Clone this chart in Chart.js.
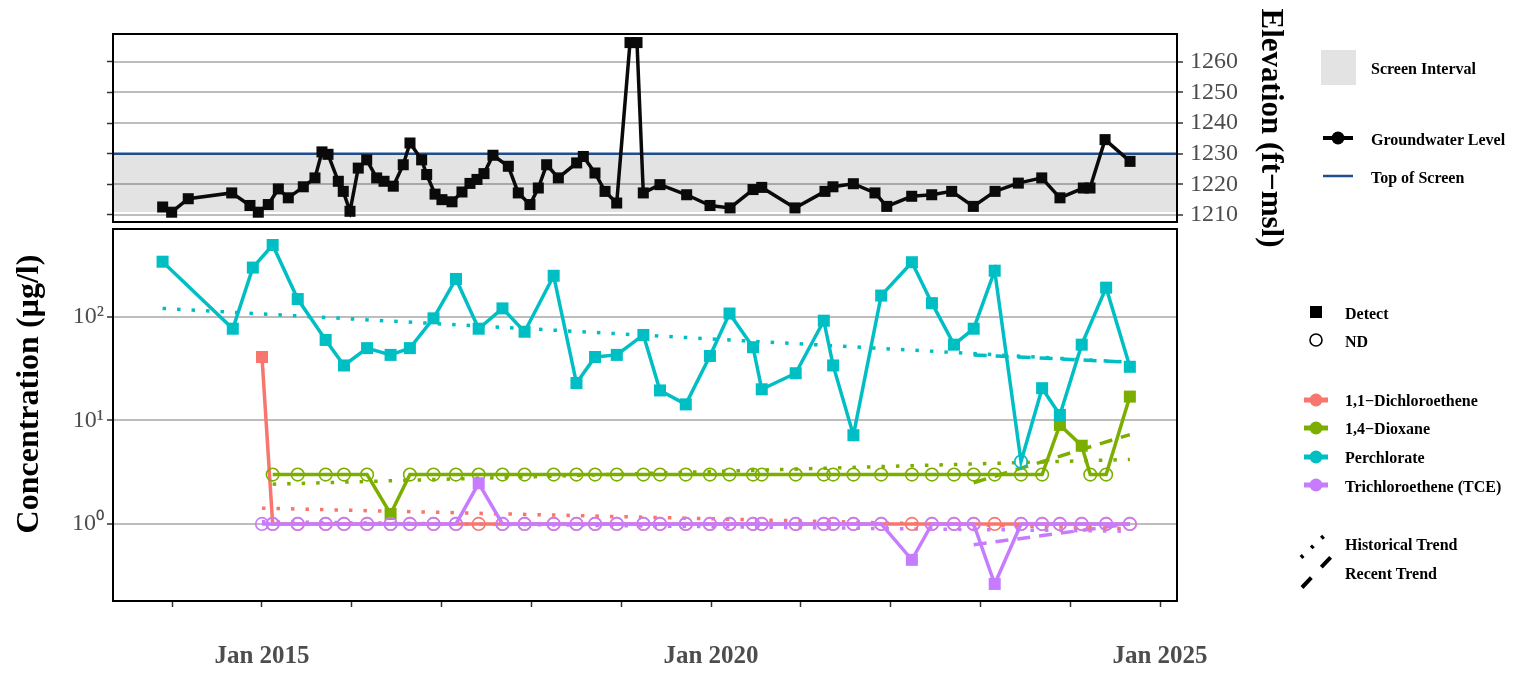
<!DOCTYPE html>
<html>
<head>
<meta charset="utf-8">
<script src="https://cdn.jsdelivr.net/npm/chart.js@4.4.1/dist/chart.umd.min.js"></script>
<style>
  html, body { margin: 0; background: #fff; overflow: hidden; }
  #wrap { position: relative; width: 1513px; height: 673px; }
  #wrap canvas, #wrap svg { position: absolute; left: 0; top: 0; }
  svg text { font-family: "Liberation Serif", serif; font-weight: bold; font-size: 16px; fill: #000; dominant-baseline: central; }
</style>
</head>
<body>
<div id="wrap">
  <canvas id="elev" width="1513" height="673"></canvas>
  <canvas id="conc" width="1513" height="673"></canvas>
  <svg width="1513" height="673">
    <text transform="translate(27,394) rotate(-90)" text-anchor="middle" style="font-size:32px">Concentration (µg/l)</text>

    <rect x="1321" y="50" width="35" height="35" fill="#e3e3e3"/>
    <text x="1371" y="68">Screen Interval</text>
    <line x1="1323" y1="138" x2="1353" y2="138" stroke="#000" stroke-width="4"/>
    <circle cx="1338" cy="138" r="6.5" fill="#000"/>
    <text x="1371" y="139">Groundwater Level</text>
    <line x1="1323" y1="176" x2="1353" y2="176" stroke="#1f4e8a" stroke-width="2.5"/>
    <text x="1371" y="177">Top of Screen</text>

    <rect x="1310" y="306" width="12" height="12" fill="#000"/>
    <text x="1345" y="313">Detect</text>
    <circle cx="1316" cy="340" r="6" fill="none" stroke="#000" stroke-width="1.6"/>
    <text x="1345" y="341">ND</text>

    <line x1="1304" y1="400" x2="1328" y2="400" stroke="#F8766D" stroke-width="5"/>
    <circle cx="1316" cy="400" r="6.5" fill="#F8766D"/>
    <text x="1345" y="400">1,1−Dichloroethene</text>
    <line x1="1304" y1="428" x2="1328" y2="428" stroke="#7CAE00" stroke-width="5"/>
    <circle cx="1316" cy="428" r="6.5" fill="#7CAE00"/>
    <text x="1345" y="428">1,4−Dioxane</text>
    <line x1="1304" y1="457" x2="1328" y2="457" stroke="#00BFC4" stroke-width="5"/>
    <circle cx="1316" cy="457" r="6.5" fill="#00BFC4"/>
    <text x="1345" y="457">Perchlorate</text>
    <line x1="1304" y1="485" x2="1328" y2="485" stroke="#C77CFF" stroke-width="5"/>
    <circle cx="1316" cy="485" r="6.5" fill="#C77CFF"/>
    <text x="1345" y="486">Trichloroethene (TCE)</text>

    <line x1="1301" y1="557.5" x2="1327" y2="533" stroke="#000" stroke-width="4" stroke-dasharray="3 11"/>
    <text x="1345" y="544">Historical Trend</text>
    <line x1="1302" y1="587.5" x2="1332" y2="556" stroke="#000" stroke-width="4" stroke-dasharray="13.5 14.5"/>
    <text x="1345" y="573">Recent Trend</text>
  </svg>
</div>
<script>
// groundwater level (ft-msl)
const gwDates = [2013.894, 2013.994, 2014.179, 2014.663, 2014.866, 2014.959, 2015.070, 2015.182, 2015.293, 2015.460,
  2015.590, 2015.668, 2015.735, 2015.850, 2015.905, 2015.980, 2016.072, 2016.166, 2016.277, 2016.359,
  2016.462, 2016.573, 2016.648, 2016.778, 2016.834, 2016.927, 2017.004, 2017.116, 2017.227, 2017.316,
  2017.394, 2017.472, 2017.572, 2017.743, 2017.854, 2017.984, 2018.077, 2018.170, 2018.300, 2018.504,
  2018.578, 2018.708, 2018.820, 2018.950, 2019.098, 2019.176, 2019.246, 2019.432, 2019.729, 2019.989,
  2020.212, 2020.468, 2020.565, 2020.935, 2021.269, 2021.358, 2021.585, 2021.826, 2021.957, 2022.235,
  2022.458, 2022.680, 2022.921, 2023.163, 2023.422, 2023.683, 2023.886, 2024.146, 2024.220, 2024.388,
  2024.666];
const gwElev = [1212.6, 1210.9, 1215.3, 1217.2, 1213.1, 1210.9, 1213.4, 1218.5, 1215.6, 1219.2,
  1222.1, 1230.6, 1229.8, 1221.0, 1217.7, 1211.2, 1225.3, 1228.0, 1222.1, 1221.0,
  1219.4, 1226.4, 1233.5, 1228.0, 1223.2, 1216.8, 1215.0, 1214.3, 1217.5, 1220.3,
  1221.6, 1223.5, 1229.5, 1225.9, 1217.2, 1213.4, 1218.8, 1226.4, 1222.1, 1227.0,
  1229.1, 1223.7, 1217.7, 1213.9, 1266.3, 1266.3, 1217.2, 1219.9, 1216.6, 1213.1,
  1212.3, 1218.3, 1219.0, 1212.3, 1217.7, 1219.2, 1220.2, 1217.2, 1212.8, 1216.1,
  1216.6, 1217.7, 1212.8, 1217.7, 1220.4, 1222.1, 1215.6, 1218.8, 1218.8, 1234.6,
  1227.5];
const screenTop = 1230;
const screenBottom = 1211;
const elevTicks = [1210, 1220, 1230, 1240, 1250, 1260];

// sampling events (decimal years) and results in ug/l, null = not sampled
const sampleDates = [2013.893, 2014.675, 2014.898, 2015.000, 2015.119, 2015.398, 2015.709, 2015.913, 2016.170, 2016.432,
  2016.647, 2016.910, 2017.160, 2017.413, 2017.678, 2017.924, 2018.248, 2018.502, 2018.709, 2018.951,
  2019.247, 2019.432, 2019.719, 2019.988, 2020.206, 2020.468, 2020.565, 2020.943, 2021.256, 2021.360,
  2021.586, 2021.895, 2022.237, 2022.460, 2022.706, 2022.925, 2023.159, 2023.452, 2023.687, 2023.885,
  2024.128, 2024.223, 2024.400, 2024.664];
const dce = [null, null, null, 41, 1, 1, 1, 1, 1, 1,
  1, 1, 1, 1, 1, 1, 1, 1, 1, 1,
  1, 1, 1, 1, 1, 1, 1, 1, 1, 1,
  1, 1, 1, 1, 1, 1, 1, 1, 1, 1,
  1, null, 1, 1];
const dceND = [0, 0, 0, 0, 1, 1, 1, 1, 1, 1,
  1, 1, 1, 1, 1, 1, 1, 1, 1, 1,
  1, 1, 1, 1, 1, 1, 1, 1, 1, 1,
  1, 1, 1, 1, 1, 1, 1, 1, 1, 1,
  1, 0, 1, 1];
const dioxane = [null, null, null, null, 3, 3, 3, 3, 3, 1.25,
  3, 3, 3, 3, 3, 3, 3, 3, 3, 3,
  3, 3, 3, 3, 3, 3, 3, 3, 3, 3,
  3, 3, 3, 3, 3, 3, 3, 3, 3, 9.05,
  5.7, 3, 3, 17];
const dioxaneND = [0, 0, 0, 0, 1, 1, 1, 1, 1, 0,
  1, 1, 1, 1, 1, 1, 1, 1, 1, 1,
  1, 1, 1, 1, 1, 1, 1, 1, 1, 1,
  1, 1, 1, 1, 1, 1, 1, 1, 1, 0,
  0, 1, 1, 0];
const perchlorate = [342, 77, 300, null, 496, 149, 60, 34, 50, 43,
  50, 97, 233, 77, 121, 72, 250, 23, 41, 43,
  67, 19.5, 14.3, 42, 108, 51, 20, 28.6, 92, 34,
  7.2, 161, 338, 136, 54, 77, 280, 4, 20.5, 11.3,
  54, null, 192, 33];
const perchlorateND = [0, 0, 0, 0, 0, 0, 0, 0, 0, 0,
  0, 0, 0, 0, 0, 0, 0, 0, 0, 0,
  0, 0, 0, 0, 0, 0, 0, 0, 0, 0,
  0, 0, 0, 0, 0, 0, 0, 1, 0, 0,
  0, 0, 0, 0];
const tce = [null, null, null, 1, 1, 1, 1, 1, 1, 1,
  1, 1, 1, 2.47, 1, 1, 1, 1, 1, 1,
  1, 1, 1, 1, 1, 1, 1, 1, 1, 1,
  1, 1, 0.45, 1, 1, 1, 0.263, 1, 1, 1,
  1, null, 1, 1];
const tceND = [0, 0, 0, 1, 1, 1, 1, 1, 1, 1,
  1, 1, 1, 0, 1, 1, 1, 1, 1, 1,
  1, 1, 1, 1, 1, 1, 1, 1, 1, 1,
  1, 1, 0, 1, 1, 1, 0, 1, 1, 1,
  1, 0, 1, 1];

// trend end points [start, end]
const histDates = { dce: [2015.000, 2024.664], dioxane: [2015.119, 2024.664], perchlorate: [2013.893, 2024.664], tce: [2015.000, 2024.664] };
const histValues = { dce: [1.42, 0.9], dioxane: [2.42, 4.2], perchlorate: [121, 36.5], tce: [1.05, 0.85] };
const recentDates = [2022.925, 2024.664];
const recentValues = { dioxane: [2.5, 7.3], perchlorate: [43, 36.5], tce: [0.63, 1.0] };

const concTicks = [1, 10, 100];
const concTickLabels = ['10⁰', '10¹', '10²'];
const tickYears = [2014, 2015, 2016, 2017, 2018, 2019, 2020, 2021, 2022, 2023, 2024, 2025];
const labelYears = [2015, 2020, 2025];

const colors = { dce: '#F8766D', dioxane: '#7CAE00', perchlorate: '#00BFC4', tce: '#C77CFF' };
const serif = '"Liberation Serif", "Times New Roman", serif';
const xMin = 2013.341, xMax = 2025.189;

Chart.defaults.font.family = serif;
Chart.defaults.animation = false;

// full black frame around each panel
const panelBox = {
  id: 'panelBox',
  afterDraw(chart) {
    const { ctx, chartArea: a } = chart;
    ctx.save();
    ctx.strokeStyle = '#000';
    ctx.lineWidth = 2;
    ctx.strokeRect(a.left, a.top, a.right - a.left, a.bottom - a.top);
    ctx.restore();
  }
};

const pts = (xs, ys) => xs.map((x, i) => ({ x, y: ys[i] }));

// ---- top panel: groundwater elevation ----
new Chart(document.getElementById('elev'), {
  type: 'line',
  data: {
    datasets: [
      { label: 'Groundwater Level', data: pts(gwDates, gwElev), borderColor: '#0a0a0a', borderWidth: 3.5,
        pointStyle: 'rect', pointRadius: 7.8, pointBorderWidth: 0, pointBackgroundColor: '#0a0a0a', order: 1, yAxisID: 'y' },
      { label: 'Top of Screen', data: pts([xMin, xMax], [screenTop, screenTop]), borderColor: '#1f4e8a', borderWidth: 2.5,
        pointRadius: 0, order: 2, yAxisID: 'y' },
      { label: 'Screen Interval', data: pts([xMin, xMax], [screenTop, screenTop]), borderWidth: 0, pointRadius: 0,
        fill: { value: screenBottom }, backgroundColor: 'rgba(0,0,0,0.11)', order: 3, yAxisID: 'y' }
    ]
  },
  options: {
    responsive: false,
    layout: { padding: { left: 0, right: 224, top: 34, bottom: 451 } },
    plugins: { legend: { display: false }, tooltip: { enabled: false } },
    scales: {
      x: { type: 'linear', min: xMin, max: xMax, display: false },
      yL: {
        position: 'left', min: 1207.7, max: 1269.1,
        afterBuildTicks: s => { s.ticks = elevTicks.map(v => ({ value: v })); },
        grid: { drawOnChartArea: false, tickLength: 6, tickColor: '#333', tickWidth: 1.5 },
        border: { display: false },
        ticks: { display: false },
        afterFit: s => { s.width = 113; }
      },
      y: {
        position: 'right', min: 1207.7, max: 1269.1,
        afterBuildTicks: s => { s.ticks = elevTicks.map(v => ({ value: v })); },
        grid: { color: '#bdbdbd', lineWidth: 2, tickLength: 6, tickColor: '#333', tickWidth: 1.5 },
        border: { display: false },
        ticks: { color: '#4d4d4d', padding: 7, font: { size: 24 }, callback: v => String(v) },
        title: { display: true, text: 'Elevation (ft−msl)', color: '#000', padding: 0, font: { size: 31, weight: 'bold' } },
        afterFit: s => { s.width = 112; }
      }
    }
  },
  plugins: [panelBox]
});

// ---- bottom panel: concentrations ----
const seriesPts = (vals, nd) => sampleDates
  .map((x, i) => ({ x, y: vals[i], nd: nd[i] === 1 }))
  .filter(p => p.y !== null);

const analyte = (label, key, vals, nd, order) => ({
  label, data: seriesPts(vals, nd), order,
  borderColor: colors[key], borderWidth: 3.5,
  pointStyle: c => c.raw.nd ? 'circle' : 'rect',
  pointRadius: c => c.raw.nd ? 6.3 : 8.5,
  pointBorderWidth: c => c.raw.nd ? 1.6 : 0,
  pointBorderColor: colors[key],
  pointBackgroundColor: c => c.raw.nd ? 'rgba(0,0,0,0)' : colors[key]
});

const trend = (key, xs, ys, dash, order) => ({
  label: key + ' trend', data: pts(xs, ys), order,
  borderColor: colors[key], borderWidth: 3.5, borderDash: dash, borderCapStyle: 'butt', pointRadius: 0
});

const dotted = [3.5, 11];
const dashed = [13, 9];

new Chart(document.getElementById('conc'), {
  type: 'line',
  data: {
    datasets: [
      analyte('Trichloroethene (TCE)', 'tce', tce, tceND, 1),
      analyte('Perchlorate', 'perchlorate', perchlorate, perchlorateND, 2),
      analyte('1,4−Dioxane', 'dioxane', dioxane, dioxaneND, 3),
      analyte('1,1−Dichloroethene', 'dce', dce, dceND, 4),
      trend('tce', histDates.tce, histValues.tce, dotted, 5),
      trend('perchlorate', histDates.perchlorate, histValues.perchlorate, dotted, 5),
      trend('dioxane', histDates.dioxane, histValues.dioxane, dotted, 5),
      trend('dce', histDates.dce, histValues.dce, dotted, 5),
      trend('tce', recentDates, recentValues.tce, dashed, 5),
      trend('perchlorate', recentDates, recentValues.perchlorate, dashed, 5),
      trend('dioxane', recentDates, recentValues.dioxane, dashed, 5)
    ]
  },
  options: {
    responsive: false,
    layout: { padding: { left: 10, right: 336, top: 229, bottom: 0 } },
    plugins: { legend: { display: false }, tooltip: { enabled: false } },
    scales: {
      x: {
        type: 'linear', min: xMin, max: xMax,
        afterBuildTicks: s => { s.ticks = tickYears.map(v => ({ value: v })); },
        grid: { drawOnChartArea: false, tickLength: 6, tickColor: '#333', tickWidth: 1.5 },
        border: { display: false },
        ticks: {
          autoSkip: false, maxRotation: 0, padding: 35, color: '#4d4d4d',
          font: { size: 25, weight: 'bold' },
          callback: v => labelYears.includes(v) ? 'Jan ' + v : ''
        },
        afterFit: s => { s.height = 72; }
      },
      y: {
        type: 'logarithmic', position: 'left', min: 0.18, max: 708,
        afterBuildTicks: s => { s.ticks = concTicks.map(v => ({ value: v })); },
        grid: { color: '#bdbdbd', lineWidth: 2, tickLength: 6, tickColor: '#333', tickWidth: 1.5 },
        border: { display: false },
        ticks: { color: '#4d4d4d', padding: 3, font: { size: 24 }, callback: (v, i) => concTickLabels[i] },
        afterFit: s => { s.width = 103; }
      }
    }
  },
  plugins: [panelBox]
});
</script>
</body>
</html>
